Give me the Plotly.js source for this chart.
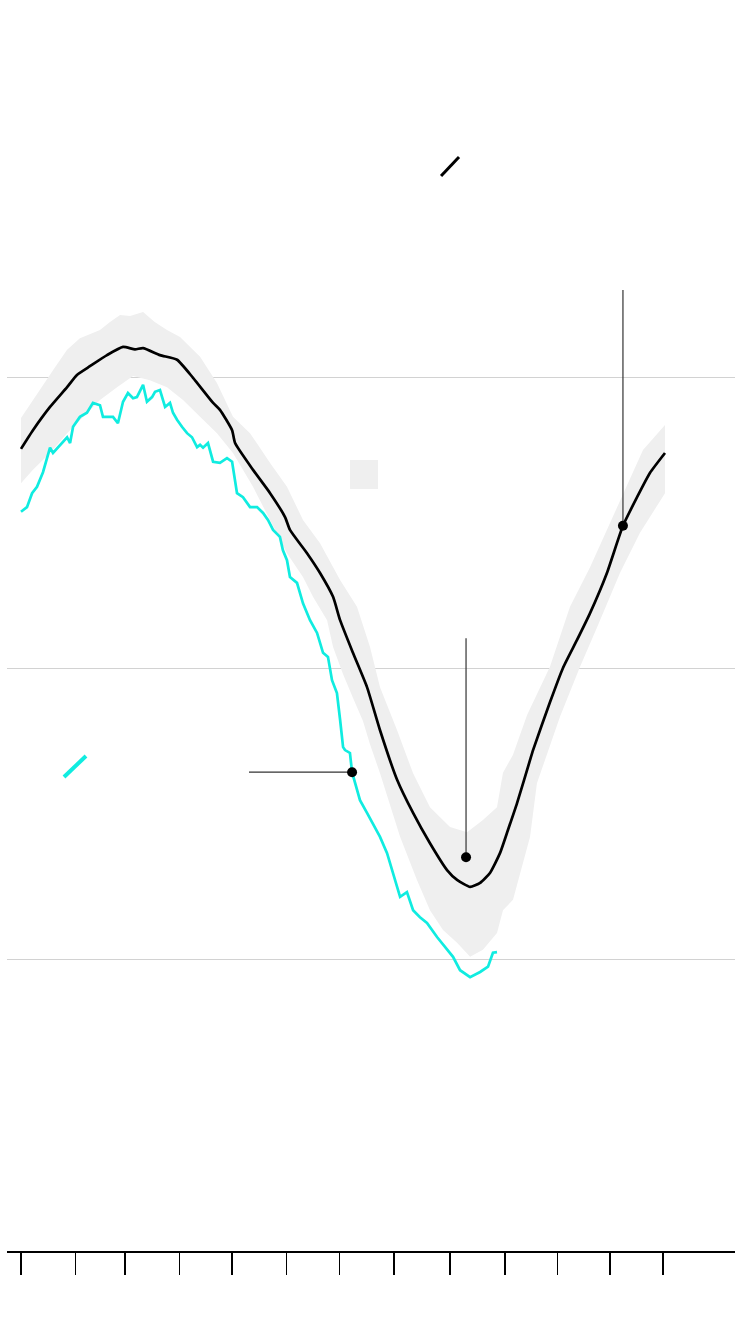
<!DOCTYPE html>
<html>
<head>
<meta charset="utf-8">
<script src="https://cdn.plot.ly/plotly-3.0.1.min.js"></script>
<style>
html,body{margin:0;padding:0;background:#fff;}
#chart{width:750px;height:1326px;}
</style>
</head>
<body>
<div id="chart"></div>
<script>
// Day of year (0 = Jan 1) and extent values (million sq. km)
var medianDay = [0,6.8,16.5,26.2,31.8,39.2,48.9,58.0,64.8,69.4,79.0,88.7,97.8,109.2,113.1,120.0,121.7,131.9,141.6,150.1,152.9,162.6,170.0,177.4,181.4,188.7,196.7,204.1,213.8,222.9,232.5,242.2,247.9,255.3,261.0,266.6,272.3,276.3,282.0,289.4,291.1,300.7,308.1,316.1,323.5,333.1,342.2,350.2,357.6,366.1];
var medianVal = [13.77,14.09,14.49,14.83,15.04,15.19,15.38,15.52,15.48,15.50,15.38,15.30,14.99,14.56,14.44,14.09,13.87,13.41,13.01,12.60,12.38,11.98,11.64,11.23,10.83,10.27,9.68,8.94,8.09,7.52,7.00,6.54,6.37,6.25,6.32,6.49,6.83,7.18,7.69,8.43,8.60,9.42,10.01,10.49,10.95,11.64,12.45,12.94,13.36,13.70];

var currentDay = [0,3.4,6.3,9.1,12.5,16.5,18.2,26.2,27.9,29.6,33.5,37.5,40.9,44.9,46.6,49.5,52.3,55.1,58.0,60.8,63.7,65.9,67.7,69.4,71.6,74.5,76.2,79.0,81.9,84.7,86.4,88.7,91.5,94.4,97.2,100.1,101.8,103.5,106.3,109.2,113.1,117.1,120.0,122.8,126.2,130.2,134.2,137.6,140.4,143.3,147.2,148.9,151.2,152.9,156.9,160.3,164.3,168.3,171.7,174.5,176.8,179.6,181.4,183.1,184.2,187.0,188.2,192.7,196.7,204.1,208.1,211.5,215.5,219.4,222.9,226.8,230.8,236.5,242.2,245.6,249.6,255.3,261.0,265.5,268.3,270.6];
var currentVal = [12.69,12.77,13.01,13.12,13.37,13.79,13.70,13.97,13.87,14.15,14.32,14.39,14.56,14.52,14.32,14.32,14.32,14.21,14.58,14.73,14.64,14.66,14.78,14.87,14.58,14.66,14.75,14.78,14.49,14.56,14.39,14.27,14.15,14.04,13.97,13.80,13.84,13.79,13.87,13.55,13.53,13.61,13.55,13.01,12.94,12.77,12.77,12.67,12.55,12.38,12.26,12.03,11.86,11.57,11.47,11.12,10.83,10.61,10.27,10.20,9.80,9.58,9.12,8.65,8.60,8.55,8.22,7.74,7.52,7.11,6.83,6.49,6.08,6.16,5.85,5.73,5.63,5.39,5.17,5.05,4.82,4.70,4.79,4.88,5.12,5.13];

var bandUpperDay = [0,6.8,18.2,26.2,33.5,44.9,50.6,56.3,62.0,69.4,76.0,83.0,90.4,101.8,111.4,120.5,130.2,141.6,151.2,160.3,170.0,181.4,191.0,198.4,204.1,213.8,222.9,232.5,243.9,253.6,262.6,270.6,274.0,279.7,287.7,300.7,312.1,323.5,340.5,353.6,366.1];
var bandUpperVal = [14.30,14.61,15.12,15.47,15.67,15.81,15.95,16.07,16.05,16.12,15.95,15.81,15.69,15.35,14.90,14.32,14.04,13.53,13.12,12.55,12.15,11.52,11.06,10.37,9.68,8.94,8.20,7.62,7.28,7.19,7.40,7.62,8.21,8.52,9.20,10.03,11.06,11.74,12.89,13.75,14.18];

var bandLowerDay = [0,6.8,16.5,26.2,35.2,44.9,54.6,63.7,73.3,83.0,92.1,101.8,111.4,120.5,131.9,141.6,151.2,160.3,166.0,174.0,177.4,183.1,188.7,194.4,198.4,204.1,215.5,225.1,232.5,239.9,247.9,255.3,262.6,270.6,274.0,279.7,283.7,289.4,293.3,306.4,317.8,327.5,340.5,351.9,366.1];
var bandLowerVal = [13.18,13.41,13.70,14.04,14.32,14.61,14.83,15.02,14.95,14.83,14.61,14.32,14.04,13.70,13.12,12.55,11.98,11.57,11.23,10.83,10.37,9.90,9.50,9.10,8.70,8.20,7.11,6.37,5.85,5.51,5.29,5.05,5.17,5.46,5.85,6.03,6.49,7.11,8.03,9.17,10.03,10.71,11.64,12.33,13.01];

// Month-start tick positions (days) and y gridlines
var monthTicks = [0,31,59,90,120,151,181,212,244,275,305,335,365];
var yTicks = [0,5,10,15,20];

// Callout points (day, value) and their leader-line ends
var calloutDay   = [342.2, 253.0, 188.2];
var calloutVal   = [12.45, 6.76, 8.22];
var leaderEndDay = [342.2, 253.0, 129.6];
var leaderEndVal = [16.5, 10.52, 8.22];

var traces = [];
traces.push({
  x: bandUpperDay.concat(bandLowerDay.slice().reverse()),
  y: bandUpperVal.concat(bandLowerVal.slice().reverse()),
  type: 'scatter', mode: 'lines', fill: 'toself',
  fillcolor: '#efefef', line: {width: 0, color: 'rgba(0,0,0,0)'},
  hoverinfo: 'skip'
});
traces.push({
  x: medianDay, y: medianVal, type: 'scatter', mode: 'lines',
  line: {color: '#000', width: 2.7, shape: 'spline', smoothing: 0.5}
});
traces.push({
  x: currentDay, y: currentVal, type: 'scatter', mode: 'lines',
  line: {color: '#10ece0', width: 2.7}
});
for (var i = 0; i < calloutDay.length; i++) {
  traces.push({
    x: [leaderEndDay[i], calloutDay[i]], y: [leaderEndVal[i], calloutVal[i]],
    type: 'scatter', mode: 'lines', line: {color: '#333', width: 1.2}
  });
}
traces.push({
  x: calloutDay, y: calloutVal, type: 'scatter', mode: 'markers',
  marker: {color: '#000', size: 10}
});

var layout = {
  width: 750, height: 1326,
  margin: {l: 7, r: 15, t: 86, b: 75},
  paper_bgcolor: '#fff', plot_bgcolor: '#fff',
  showlegend: false,
  xaxis: {
    range: [-7.96, 405.9], tickmode: 'array', tickvals: monthTicks,
    showticklabels: false, ticks: 'outside', ticklen: 22, tickwidth: 1.6, tickcolor: '#000',
    showgrid: false, zeroline: false, showline: true, linecolor: '#000', linewidth: 1.6
  },
  yaxis: {
    range: [0, 20], tickmode: 'array', tickvals: yTicks,
    showticklabels: false, ticks: '', showgrid: true, gridcolor: '#d2d2d2', gridwidth: 1,
    zeroline: false, showline: false
  },
  shapes: [
    {type: 'line', xref: 'paper', yref: 'paper', x0: 0.5962, y0: 0.9227, x1: 0.6209, y1: 0.9391,
     line: {color: '#000', width: 3}},
    {type: 'line', xref: 'paper', yref: 'paper', x0: 0.0783, y0: 0.4069, x1: 0.1085, y1: 0.4249,
     line: {color: '#10ece0', width: 4}},
    {type: 'rect', xref: 'paper', yref: 'paper', x0: 0.4712, y0: 0.6541, x1: 0.5096, y1: 0.679,
     fillcolor: '#efefef', line: {width: 0}}
  ]
};

Plotly.newPlot('chart', traces, layout, {displayModeBar: false, staticPlot: true});
</script>
</body>
</html>
